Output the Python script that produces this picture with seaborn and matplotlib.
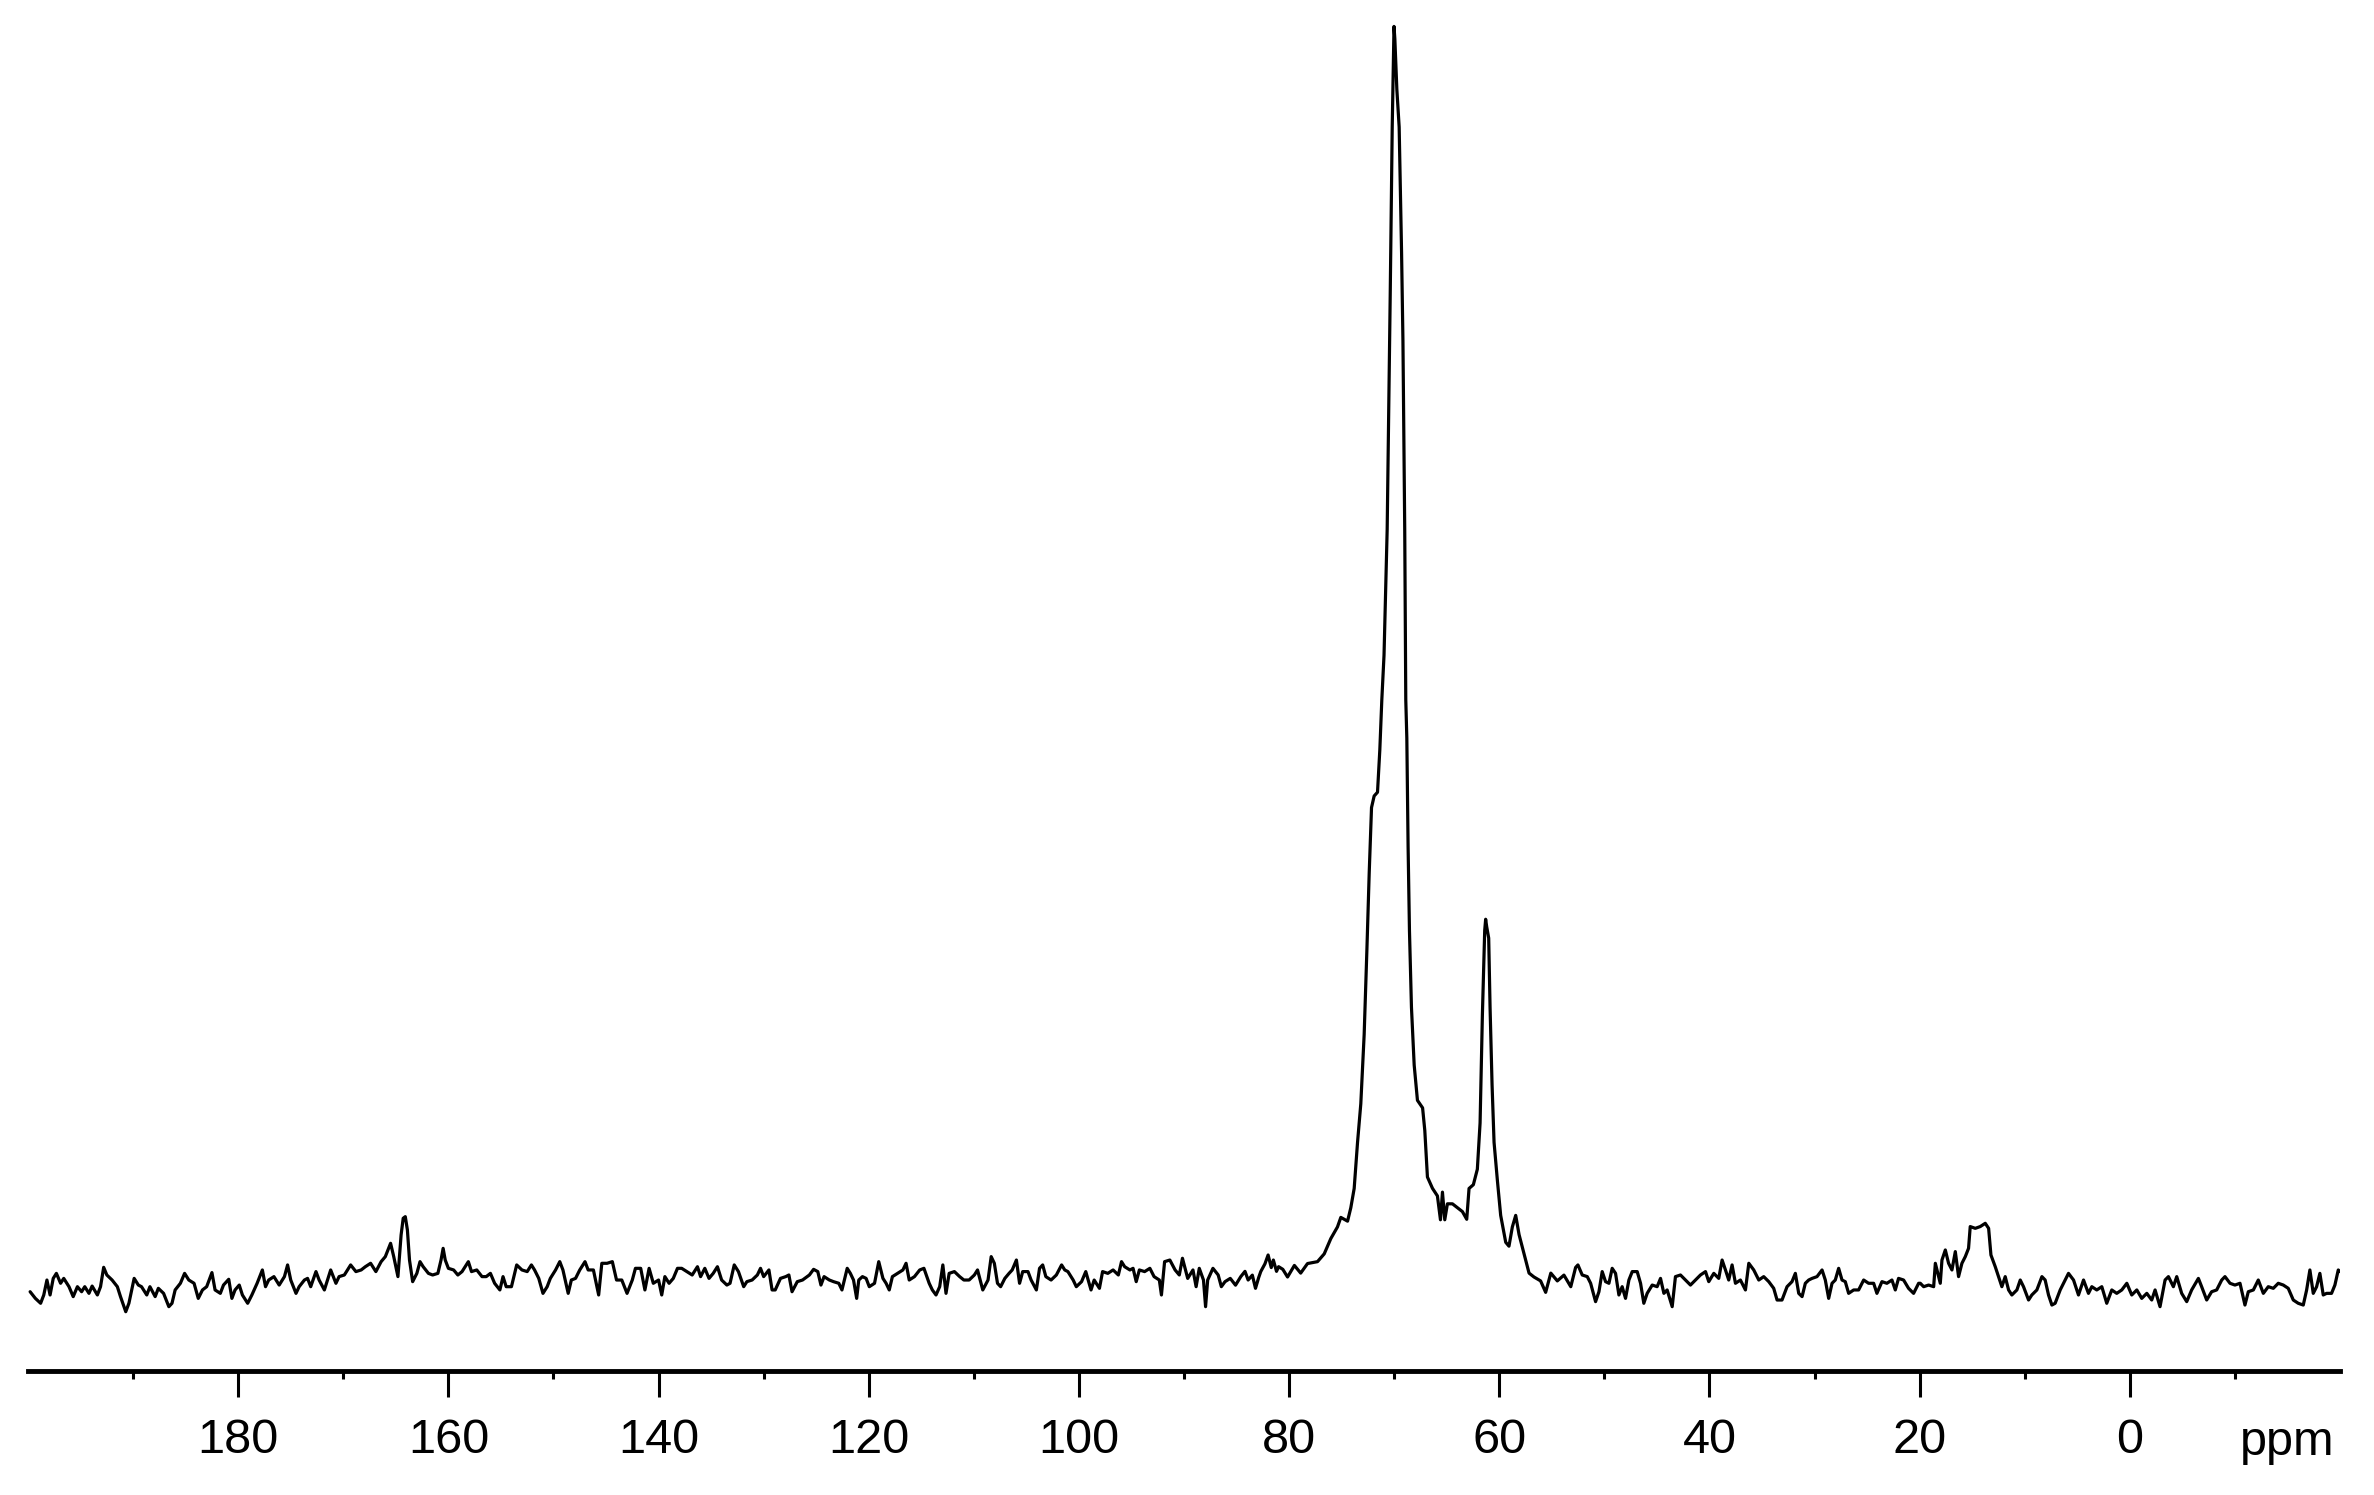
import numpy as np
import pandas as pd
import matplotlib
matplotlib.use("Agg")
import matplotlib.pyplot as plt
from matplotlib.ticker import FixedLocator
import seaborn as sns

# chemical shift (ppm) and intensity (main peak = 100)
shift_ppm = [
    # 200 - 164.5
    199.8, 199.3, 198.8, 198.5, 198.2, 197.9, 197.6, 197.3, 196.9, 196.6,
    196.1, 195.7, 195.3, 194.9, 194.6, 194.2, 193.9, 193.4, 193.1, 192.8,
    192.5, 192.0, 191.5, 191.2, 190.7, 190.4, 189.9, 189.5, 189.2, 188.7,
    188.4, 187.9, 187.6, 187.1, 186.6, 186.3, 186.0, 185.5, 185.1, 184.7,
    184.2, 183.8, 183.4, 183.0, 182.5, 182.2, 181.7, 181.4, 180.9, 180.6,
    180.3, 179.9, 179.6, 179.1, 178.7, 178.2, 177.7, 177.4, 177.1, 176.6,
    176.1, 175.6, 175.3, 175.0, 174.5, 174.2, 173.7, 173.4, 173.1, 172.6,
    172.3, 171.8, 171.5, 171.2, 170.7, 170.4, 169.9, 169.3, 168.8, 168.3,
    167.9, 167.4, 166.9, 166.4, 166.0, 165.5, 165.2, 164.8, 164.5,
    # 164.3 - 126.3
    164.3, 164.1, 163.9, 163.7, 163.4, 163.0, 162.7, 162.4, 161.9, 161.5,
    161.0, 160.7, 160.5, 160.3, 160.0, 159.5, 159.1, 158.7, 158.3, 158.1,
    157.8, 157.3, 156.8, 156.4, 156.0, 155.6, 155.1, 154.8, 154.5, 154.0,
    153.5, 153.0, 152.5, 152.1, 151.8, 151.4, 151.0, 150.6, 150.3, 149.8,
    149.4, 149.1, 148.6, 148.3, 147.9, 147.5, 147.0, 146.7, 146.2, 145.7,
    145.4, 144.9, 144.4, 144.0, 143.5, 143.0, 142.5, 142.2, 141.7, 141.3,
    140.9, 140.5, 140.0, 139.7, 139.4, 139.0, 138.6, 138.2, 137.8, 137.3,
    136.8, 136.3, 136.0, 135.6, 135.2, 134.8, 134.4, 134.0, 133.5, 133.2,
    132.8, 132.4, 131.9, 131.6, 131.1, 130.6, 130.3, 130.0, 129.5, 129.2,
    128.9, 128.4, 127.9, 127.6, 127.3, 126.8, 126.3,
    # 125.7 - 86.5
    125.65, 125.25, 124.85, 124.55, 124.25, 123.75, 123.35, 122.85, 122.55, 122.05,
    121.75, 121.45, 121.15, 120.95, 120.6, 120.25, 119.95, 119.45, 119.05, 118.65,
    118.35, 118.05, 117.75, 117.25, 116.75, 116.45, 116.15, 115.65, 115.15, 114.75,
    114.25, 113.95, 113.6, 113.25, 112.95, 112.65, 112.35, 111.85, 111.35, 110.95,
    110.45, 109.95, 109.65, 109.15, 108.65, 108.35, 108.05, 107.75, 107.45, 107.05,
    106.65, 106.35, 105.95, 105.65, 105.35, 104.85, 104.55, 104.05, 103.75, 103.45,
    103.15, 102.65, 102.15, 101.65, 101.35, 101.05, 100.55, 100.25, 99.75, 99.35,
    98.85, 98.55, 98.05, 97.75, 97.25, 96.75, 96.25, 95.95, 95.65, 95.15,
    94.85, 94.55, 94.25, 93.75, 93.25, 92.85, 92.35, 92.15, 91.85, 91.35,
    90.85, 90.45, 90.15, 89.65, 89.15, 88.85, 88.55, 88.15, 87.95, 87.75,
    87.25, 86.75, 86.45,
    # 86.1 - 81.0
    86.1, 85.6, 85.1, 84.6, 84.2, 83.9, 83.5, 83.2, 82.9, 82.7,
    82.3, 82.0, 81.7, 81.5, 81.2, 81.0,
    # main peaks, 80.6 - 52.7
    80.6, 80.15, 79.5, 78.9, 78.25, 77.3, 76.66, 76.03, 75.4, 75.08,
    74.44, 74.13, 73.81, 73.49, 73.18, 72.86, 72.6, 72.38, 72.16, 71.91,
    71.59, 71.37, 71.18, 70.97, 70.67, 70.38, 70.19, 70.1, 70.02, 69.94,
    69.75, 69.53, 69.3, 69.17, 69.0, 68.9, 68.8, 68.68, 68.55, 68.36,
    68.1, 67.79, 67.3, 67.09, 66.84, 66.36, 65.89, 65.6, 65.41, 65.19,
    64.94, 64.46, 63.99, 63.51, 63.1, 62.88, 62.47, 62.09, 61.83, 61.61,
    61.39, 61.3, 61.2, 61.01, 60.88, 60.69, 60.5, 60.18, 59.87, 59.39,
    59.08, 58.76, 58.44, 58.12, 57.65, 57.17, 56.7, 56.07, 55.59, 55.1,
    54.48, 53.85, 53.2, 52.74,
    # 52.5 - 20.1
    52.52, 52.11, 51.63, 51.31, 50.84, 50.52, 50.21, 49.89, 49.57, 49.26,
    48.94, 48.62, 48.31, 47.99, 47.67, 47.35, 46.88, 46.56, 46.25, 45.93,
    45.45, 44.98, 44.66, 44.34, 44.03, 43.55, 43.24, 42.76, 42.28, 41.81,
    41.33, 40.86, 40.38, 40.07, 39.59, 39.12, 38.8, 38.48, 38.17, 37.85,
    37.53, 37.06, 36.58, 36.26, 35.79, 35.31, 34.84, 34.36, 33.89, 33.57,
    33.1, 32.62, 32.15, 31.83, 31.51, 31.19, 30.88, 30.56, 30.24, 29.77,
    29.29, 28.98, 28.66, 28.34, 28.03, 27.71, 27.39, 27.08, 26.76, 26.28,
    25.81, 25.33, 24.86, 24.38, 24.07, 23.59, 23.12, 22.64, 22.32, 22.01,
    21.53, 21.06, 20.58, 20.1,
    # 19.9 - -20
    19.94, 19.62, 19.15, 18.67, 18.51, 18.2, 18.04, 17.88, 17.56, 17.25,
    16.93, 16.61, 16.3, 15.98, 15.66, 15.35, 15.19, 14.71, 14.24, 13.76,
    13.44, 13.22, 12.81, 12.5, 12.18, 11.86, 11.54, 11.23, 10.75, 10.43,
    10.12, 9.64, 9.33, 8.85, 8.37, 8.06, 7.74, 7.42, 7.11, 6.63,
    6.16, 5.84, 5.36, 4.89, 4.41, 3.94, 3.62, 3.15, 2.67, 2.2,
    1.72, 1.25, 0.77, 0.29, -0.18, -0.66, -1.13, -1.61, -2.08, -2.4,
    -2.87, -3.35, -3.67, -4.14, -4.46, -4.93, -5.41, -5.88, -6.52, -6.83,
    -7.31, -7.78, -8.26, -8.74, -9.05, -9.53, -10.0, -10.48, -10.95, -11.27,
    -11.75, -12.22, -12.7, -13.17, -13.65, -14.12, -14.6, -15.07, -15.55, -16.02,
    -16.5, -16.82, -17.13, -17.45, -17.77, -18.08, -18.4, -18.72, -19.19, -19.51,
    -19.83, -19.99,
]

intensity = [
    -0.62, -1.15, -1.54, -0.88, 0.31, -0.88, 0.44, 0.84, 0.05, 0.44,
    -0.22, -1.01, -0.22, -0.62, -0.22, -0.75, -0.17, -0.88, -0.22, 1.32,
    0.71, 0.31, -0.22, -1.01, -2.21, -1.54, 0.44, -0.09, -0.22, -0.88,
    -0.22, -1.01, -0.35, -0.75, -1.81, -1.54, -0.48, 0.05, 0.84, 0.31,
    0.05, -1.15, -0.48, -0.22, 0.90, -0.48, -0.75, -0.09, 0.37, -1.15,
    -0.48, -0.09, -0.88, -1.54, -0.88, 0.05, 1.11, -0.22, 0.31, 0.58,
    -0.09, 0.58, 1.51, 0.31, -0.75, -0.22, 0.31, 0.44, -0.22, 0.98,
    0.31, -0.48, 0.31, 1.11, 0.05, 0.58, 0.71, 1.51, 0.98, 1.11,
    1.37, 1.64, 0.98, 1.77, 2.17, 3.23, 2.17, 0.58, 3.89,
    5.22, 5.35, 4.29, 1.90, 0.18, 0.84, 1.77, 1.37, 0.84, 0.71,
    0.84, 1.90, 2.83, 1.90, 1.24, 1.11, 0.71, 0.98, 1.51, 1.77,
    0.98, 1.11, 0.58, 0.58, 0.84, 0.05, -0.48, 0.58, -0.22, -0.22,
    1.51, 1.11, 0.98, 1.51, 1.11, 0.44, -0.75, -0.22, 0.44, 1.11,
    1.77, 1.11, -0.75, 0.31, 0.44, 1.11, 1.77, 1.11, 1.11, -0.88,
    1.64, 1.64, 1.77, 0.31, 0.31, -0.75, 0.31, 1.24, 1.24, -0.48,
    1.24, 0.05, 0.31, -0.88, 0.58, 0.05, 0.44, 1.24, 1.24, 0.98,
    0.71, 1.37, 0.58, 1.24, 0.44, 0.84, 1.37, 0.31, -0.09, 0.05,
    1.51, 0.98, -0.22, 0.18, 0.31, 0.71, 1.24, 0.58, 1.11, -0.48,
    -0.48, 0.44, 0.58, 0.71, -0.62, 0.18, 0.31,
    0.71, 1.16, 0.98, -0.09, 0.58, 0.31, 0.18, 0.05, -0.48, 1.24,
    0.84, 0.31, -1.15, 0.31, 0.58, 0.44, -0.22, 0.05, 1.77, 0.44,
    0.05, -0.48, 0.58, 0.84, 1.11, 1.64, 0.31, 0.58, 1.11, 1.24,
    0.05, -0.48, -0.88, -0.22, 1.51, -0.75, 0.84, 0.98, 0.58, 0.31,
    0.31, 0.71, 1.11, -0.48, 0.31, 2.17, 1.64, 0.05, -0.22, 0.44,
    0.84, 1.11, 1.90, 0.05, 0.98, 0.98, 0.31, -0.48, 1.24, 1.51,
    0.58, 0.31, 0.71, 1.51, 1.11, 0.98, 0.31, -0.22, 0.18, 0.98,
    -0.48, 0.31, -0.35, 0.98, 0.84, 1.11, 0.71, 1.77, 1.37, 1.11,
    1.24, 0.18, 1.11, 0.98, 1.24, 0.58, 0.31, -0.88, 1.77, 1.90,
    1.11, 0.71, 2.04, 0.44, 1.11, -0.22, 1.24, 0.31, -1.81, 0.31,
    1.24, 0.71, -0.22,
    0.18, 0.44, -0.10, 0.58, 1.00, 0.31, 0.70, -0.35, 0.50, 0.98,
    1.60, 2.30, 1.30, 1.90, 1.00, 1.37,
    1.16, 0.55, 1.47, 0.86, 1.62, 1.77, 2.39, 3.61, 4.53, 5.29,
    4.99, 6.06, 7.59, 11.26, 14.32, 19.83, 26.56, 32.68, 37.88, 38.8,
    39.1, 42.47, 46.45, 50.0, 60.0, 78.7, 92.0, 96.0, 100.0, 99.0,
    95.0, 92.0, 82.0, 75.0, 60.0, 46.45, 43.4, 34.8, 28.1, 22.0,
    17.4, 14.6, 14.0, 12.2, 8.5, 7.6, 7.0, 5.1, 7.3, 5.1,
    6.37, 6.37, 6.06, 5.75, 5.14, 7.59, 7.89, 9.12, 12.8, 21.4,
    28.1, 29.0, 28.4, 27.5, 22.0, 15.85, 11.26, 8.2, 5.45, 3.31,
    3.0, 4.53, 5.45, 3.92, 2.39, 0.86, 0.55, 0.24, -0.67, 0.86,
    0.24, 0.70, -0.22, 1.31,
    1.51, 0.71, 0.58, 0.05, -1.41, -0.62, 0.98, 0.18, 0.05, 1.24,
    0.84, -0.88, -0.22, -1.15, 0.31, 0.98, 0.98, 0.05, -1.54, -0.75,
    -0.09, -0.22, 0.44, -0.75, -0.48, -1.81, 0.58, 0.71, 0.31, -0.09,
    0.31, 0.71, 0.98, 0.18, 0.84, 0.44, 1.90, 1.11, 0.31, 1.51,
    0.05, 0.31, -0.48, 1.64, 1.11, 0.31, 0.58, 0.18, -0.35, -1.28,
    -1.28, -0.22, 0.18, 0.84, -0.75, -1.01, 0.05, 0.31, 0.44, 0.58,
    1.11, 0.31, -1.15, 0.05, 0.31, 1.24, 0.31, 0.18, -0.75, -0.48,
    -0.48, 0.31, 0.05, 0.05, -0.75, 0.18, 0.05, 0.31, -0.48, 0.44,
    0.31, -0.35, -0.75, 0.05,
    0.05, -0.22, -0.09, -0.22, 1.64, 0.58, 0.05, 1.90, 2.70, 1.64,
    1.11, 2.57, 0.58, 1.64, 2.17, 2.83, 4.56, 4.42, 4.56, 4.82,
    4.42, 2.30, 1.37, 0.58, -0.22, 0.58, -0.48, -0.88, -0.48, 0.31,
    -0.22, -1.28, -0.88, -0.48, 0.58, 0.31, -0.88, -1.68, -1.54, -0.48,
    0.31, 0.84, 0.31, -0.88, 0.31, -0.75, -0.22, -0.48, -0.22, -1.54,
    -0.48, -0.75, -0.48, 0.05, -0.88, -0.48, -1.15, -0.75, -1.28, -0.48,
    -1.81, 0.31, 0.58, -0.22, 0.58, -0.75, -1.41, -0.48, 0.44, -0.22,
    -1.28, -0.62, -0.48, 0.31, 0.58, 0.05, -0.09, 0.05, -1.68, -0.62,
    -0.48, 0.31, -0.75, -0.22, -0.35, 0.05, -0.09, -0.35, -1.28, -1.54,
    -1.68, -0.48, 1.11, -0.75, -0.22, 0.84, -0.88, -0.75, -0.75, -0.09,
    1.11, 0.98,
]

major_ticks = [180, 160, 140, 120, 100, 80, 60, 40, 20, 0]
minor_ticks = [190, 170, 150, 130, 110, 90, 70, 50, 30, 10, -10]
tick_labels = [str(t) for t in major_ticks]

df = pd.DataFrame({"ppm": shift_ppm, "intensity": intensity})

sns.set_theme(style="ticks")
plt.rcParams['font.family'] = ['Liberation Sans', 'DejaVu Sans']

fig = plt.figure(figsize=(23.74, 14.95), dpi=100)
ax = fig.add_axes([0.0118, 0.0829, 0.9739, 0.9171])

# spectrum trace
sns.lineplot(data=df, x="ppm", y="intensity", sort=False, estimator=None,
             color="black", linewidth=2.3, ax=ax)

ax.set_xlim(200, -20)
ax.set_ylim(-6.93, 102.1)

for side in ["left", "right", "top"]:
    ax.spines[side].set_visible(False)
ax.spines["bottom"].set_linewidth(3.5)
ax.spines["bottom"].set_color("black")

ax.set_yticks([])
ax.xaxis.set_major_locator(FixedLocator(major_ticks))
ax.xaxis.set_minor_locator(FixedLocator(minor_ticks))
ax.set_xticklabels(tick_labels)
ax.tick_params(axis="x", which="major", length=18.7, width=2.2, pad=15,
               labelsize=35, color="black", labelcolor="black", direction="out")
ax.tick_params(axis="x", which="minor", length=6, width=2.2, color="black", direction="out")
ax.set_xlabel("")
ax.set_ylabel("")

ax.annotate("ppm", xy=(-15, 0), xycoords=("data", "axes fraction"),
            xytext=(0, -60.5), textcoords="offset points",
            ha="center", va="baseline", fontsize=35, color="black")

fig.savefig("out.png", dpi=100, facecolor="white")
